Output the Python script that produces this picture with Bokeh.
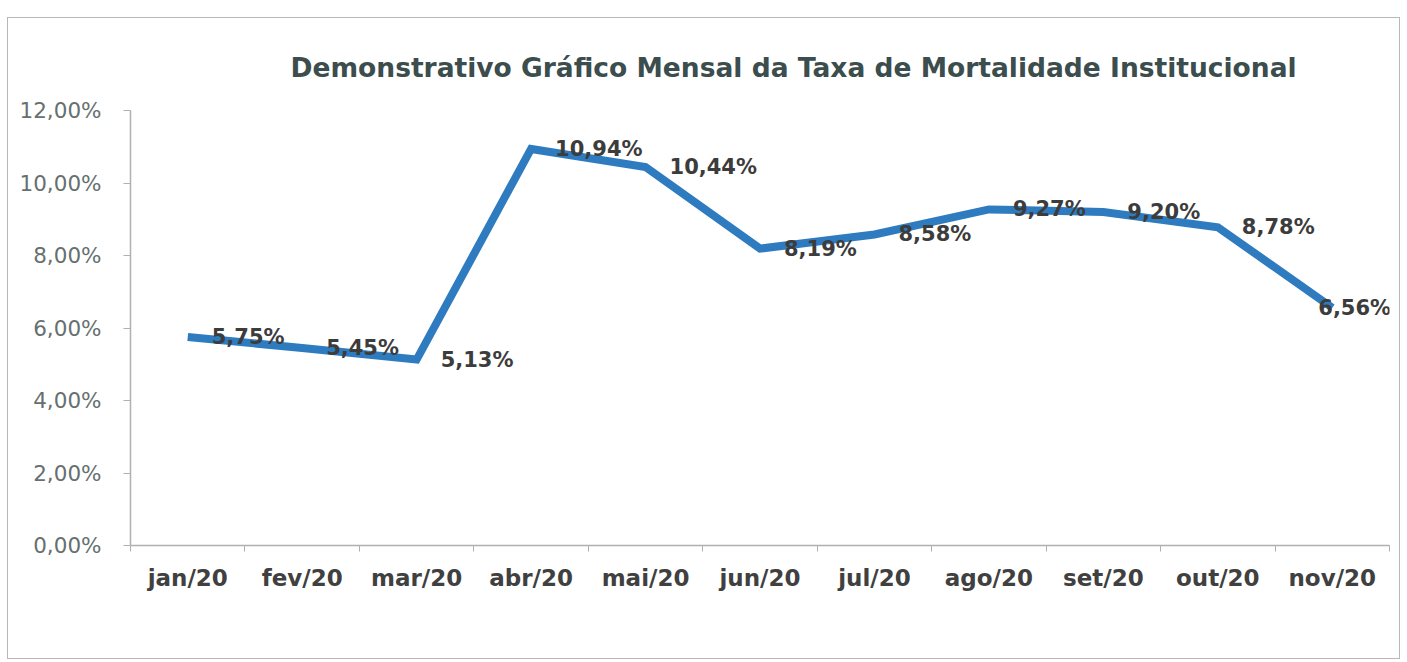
from bokeh.plotting import figure
from bokeh.models import ColumnDataSource, FixedTicker, Range1d, LabelSet
from bokeh.core.properties import value
from bokeh.embed import file_html
from bokeh.resources import INLINE

months = ["jan/20", "fev/20", "mar/20", "abr/20", "mai/20", "jun/20",
          "jul/20", "ago/20", "set/20", "out/20", "nov/20"]
rates = [5.75, 5.45, 5.13, 10.94, 10.44, 8.19, 8.58, 9.27, 9.20, 8.78, 6.56]
rate_labels = ["5,75%", "5,45%", "5,13%", "10,94%", "10,44%", "8,19%",
               "8,58%", "9,27%", "9,20%", "8,78%", "6,56%"]
y_ticks = [0, 2, 4, 6, 8, 10, 12]
y_tick_labels = ["0,00%", "2,00%", "4,00%", "6,00%", "8,00%", "10,00%", "12,00%"]
title_text = "Demonstrativo Gráfico Mensal da Taxa de Mortalidade Institucional"

xs = [i + 0.5 for i in range(len(months))]
# label offsets: Excel pushes the last label back over its point
dx = [24] * (len(months) - 1) + [-14]
src = ColumnDataSource(dict(x=xs, y=rates, lab=rate_labels, dx=dx))

p = figure(width=1393, height=642, output_backend="svg", toolbar_location=None,
           x_range=Range1d(0, len(months)), y_range=Range1d(0, 12),
           min_border_left=122, min_border_right=12, min_border_top=92,
           min_border_bottom=115)
p.margin = (17, 0, 0, 7)
p.styles = {"border": "1px solid #b8b8b8"}

p.title.text = title_text
p.title.align = "left"
p.title.offset = 160
p.title.text_font = "DejaVu Sans"
p.title.text_font_size = "26.5px"
p.title.text_font_style = "bold"
p.title.text_color = "#3b4d4d"
p.title.standoff = 55

p.grid.visible = False
p.outline_line_color = None

p.line("x", "y", source=src, line_width=8, line_color="#2f7bbf", line_join="miter")
labels = LabelSet(x="x", y="y", text="lab", source=src, x_offset="dx",
                  text_baseline="middle", text_align="left",
                  text_font=value("DejaVu Sans"), text_font_size=value("21px"),
                  text_font_style=value("bold"), text_color=value("#3c3c3c"))
p.add_layout(labels)

p.xaxis.ticker = FixedTicker(ticks=xs, minor_ticks=list(range(len(months) + 1)))
p.xaxis.major_label_overrides = {x: m for x, m in zip(xs, months)}
p.xaxis.major_tick_line_color = None
p.xaxis.minor_tick_line_color = "#b0b0b0"
p.xaxis.minor_tick_in = 0
p.xaxis.minor_tick_out = 6
p.xaxis.axis_line_color = "#b0b0b0"
p.xaxis.axis_line_width = 1.5
p.xaxis.major_label_text_font = "DejaVu Sans"
p.xaxis.major_label_text_font_size = "23px"
p.xaxis.major_label_text_font_style = "bold"
p.xaxis.major_label_text_color = "#404040"
p.xaxis.major_label_standoff = 13

p.yaxis.ticker = FixedTicker(ticks=y_ticks, minor_ticks=[])
p.yaxis.major_label_overrides = {t: l for t, l in zip(y_ticks, y_tick_labels)}
p.yaxis.axis_line_color = "#b0b0b0"
p.yaxis.axis_line_width = 1.5
p.yaxis.major_tick_line_color = "#b0b0b0"
p.yaxis.major_tick_in = 0
p.yaxis.major_tick_out = 7
p.yaxis.minor_tick_line_color = None
p.yaxis.major_label_text_font = "DejaVu Sans"
p.yaxis.major_label_text_font_size = "21.5px"
p.yaxis.major_label_text_color = "#66706f"
p.yaxis.major_label_standoff = 22

open("out.html", "w").write(file_html(p, INLINE))
